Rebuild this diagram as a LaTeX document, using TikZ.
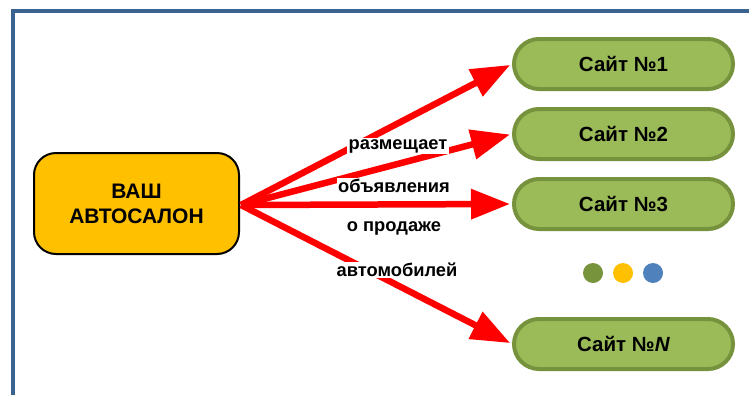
\documentclass[tikz,border=0pt]{standalone}
\usepackage{fontspec}
\setmainfont{Liberation Sans}
\usetikzlibrary{arrows.meta}
\definecolor{frameblue}{HTML}{3B6390}
\definecolor{siteedge}{HTML}{76923C}
\definecolor{sitefill}{HTML}{9BBB59}
\definecolor{dealer}{HTML}{FFC000}
\definecolor{dotgreen}{HTML}{77933C}
\definecolor{dotblue}{HTML}{4F81BD}
\definecolor{arrowred}{HTML}{FF0000}
\tikzset{
  sitebox/.style={draw=siteedge, fill=sitefill, line width=4pt, rounded corners=25pt,
    minimum width=219pt, minimum height=50pt, inner sep=0pt,
    font=\bfseries\fontsize{20.5}{24}\selectfont},
  dealerbox/.style={draw=black, fill=dealer, line width=2pt, rounded corners=22pt,
    minimum width=205pt, minimum height=101pt, inner sep=0pt, align=center,
    font=\bfseries\fontsize{21}{25}\selectfont},
  redarrow/.style={draw=arrowred, line width=6.5pt, shorten >=2pt,
    -{Triangle[length=39pt,width=29pt]}},
  lbl/.style={fill=white, inner sep=1.5pt, font=\bfseries\fontsize{18.3}{21}\selectfont},
  dot/.style={circle, minimum size=20pt, inner sep=0pt}
}
\begin{document}
\begin{tikzpicture}[x=1pt,y=-1pt]
\useasboundingbox (0,0) rectangle (749,394);
\begin{scope}
\clip (0,0) rectangle (749,394);
\draw[frameblue, line width=4pt] (760,11) -- (13,11) -- (13,400);
\end{scope}
\node[dealerbox] (main) at (136.5,203.5) {ВАШ\\АВТОСАЛОН};
\node[sitebox] (s1) at (623.5,64) {Сайт №1};
\node[sitebox] (s2) at (623.5,134) {Сайт №2};
\node[sitebox] (s3) at (623.5,204) {Сайт №3};
\node[sitebox] (sN) at (623.5,344) {Сайт №\textit{N}};
\coordinate (src) at (241,205);
\draw[redarrow] (src) -- (s1.west);
\draw[redarrow] (src) -- (s2.west);
\draw[redarrow] (src) -- (s3.west);
\draw[redarrow] (src) -- (sN.west);
\node[lbl] (l1) at (398,146) {размещает};
\node[lbl] (l2) at (394,186) {объявления};
\node[lbl] (l3) at (394,228) {о продаже};
\node[lbl] (l4) at (397,270) {автомобилей};
\node[dot, fill=dotgreen] (d1) at (593,273) {};
\node[dot, fill=dealer] (d2) at (623,273) {};
\node[dot, fill=dotblue] (d3) at (653,273) {};
\end{tikzpicture}
\end{document}
